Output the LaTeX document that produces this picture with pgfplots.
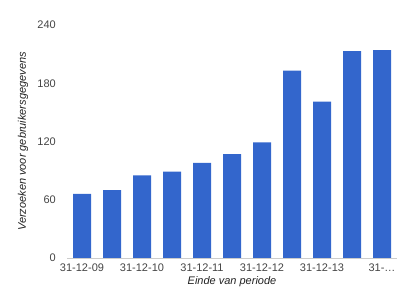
\documentclass[border=0pt]{standalone}
\usepackage{fontspec}
\setmainfont{Liberation Sans}
\usepackage{pgfplots}
\pgfplotsset{compat=1.18}
\definecolor{barblue}{HTML}{3366CC}
\definecolor{ticktext}{HTML}{444444}
\definecolor{titletext}{HTML}{222222}
\definecolor{baseline}{HTML}{CCCCCC}
\begin{document}
\fontsize{11bp}{13bp}\selectfont
\begin{tikzpicture}
\useasboundingbox (0,0) rectangle (417bp,298bp);
\begin{axis}[
  at={(67bp,40bp)}, anchor=south west,
  scale only axis, width=330bp, height=233bp,
  xmin=-0.5, xmax=10.5, ymin=0, ymax=240,
  ytick={0,60,120,180,240},
  xtick={0,2,4,6,8,10},
  xticklabels={31-12-09,31-12-10,31-12-11,31-12-12,31-12-13,31-…},
  /pgf/number format/assume math mode=true,
  major tick length=0pt,
  axis x line*=bottom, axis y line*=left,
  x axis line style={draw=baseline, line width=1bp},
  y axis line style={draw=none},
  tick label style={font=\fontsize{11bp}{13bp}\selectfont, text=ticktext},
  yticklabel style={anchor=east, inner sep=0pt, xshift=-11bp},
  xticklabel style={anchor=north, inner sep=0pt, yshift=-6bp},
  xlabel={\itshape Einde van periode},
  ylabel={\itshape Verzoeken voor gebruikersgegevens},
  label style={font=\fontsize{11bp}{13bp}\selectfont, text=titletext},
  xlabel style={at={(axis description cs:0.5,0)}, anchor=center, yshift=-24bp},
  ylabel style={at={(axis description cs:0,0.5)}, anchor=center, yshift=44bp},
]
\addplot[ybar, bar width=18bp, fill=barblue, draw=none] coordinates {
  (0,66) (1,70) (2,85) (3,89) (4,98) (5,107) (6,119) (7,193) (8,161) (9,213) (10,214)
};
\end{axis}
\end{tikzpicture}
\end{document}
